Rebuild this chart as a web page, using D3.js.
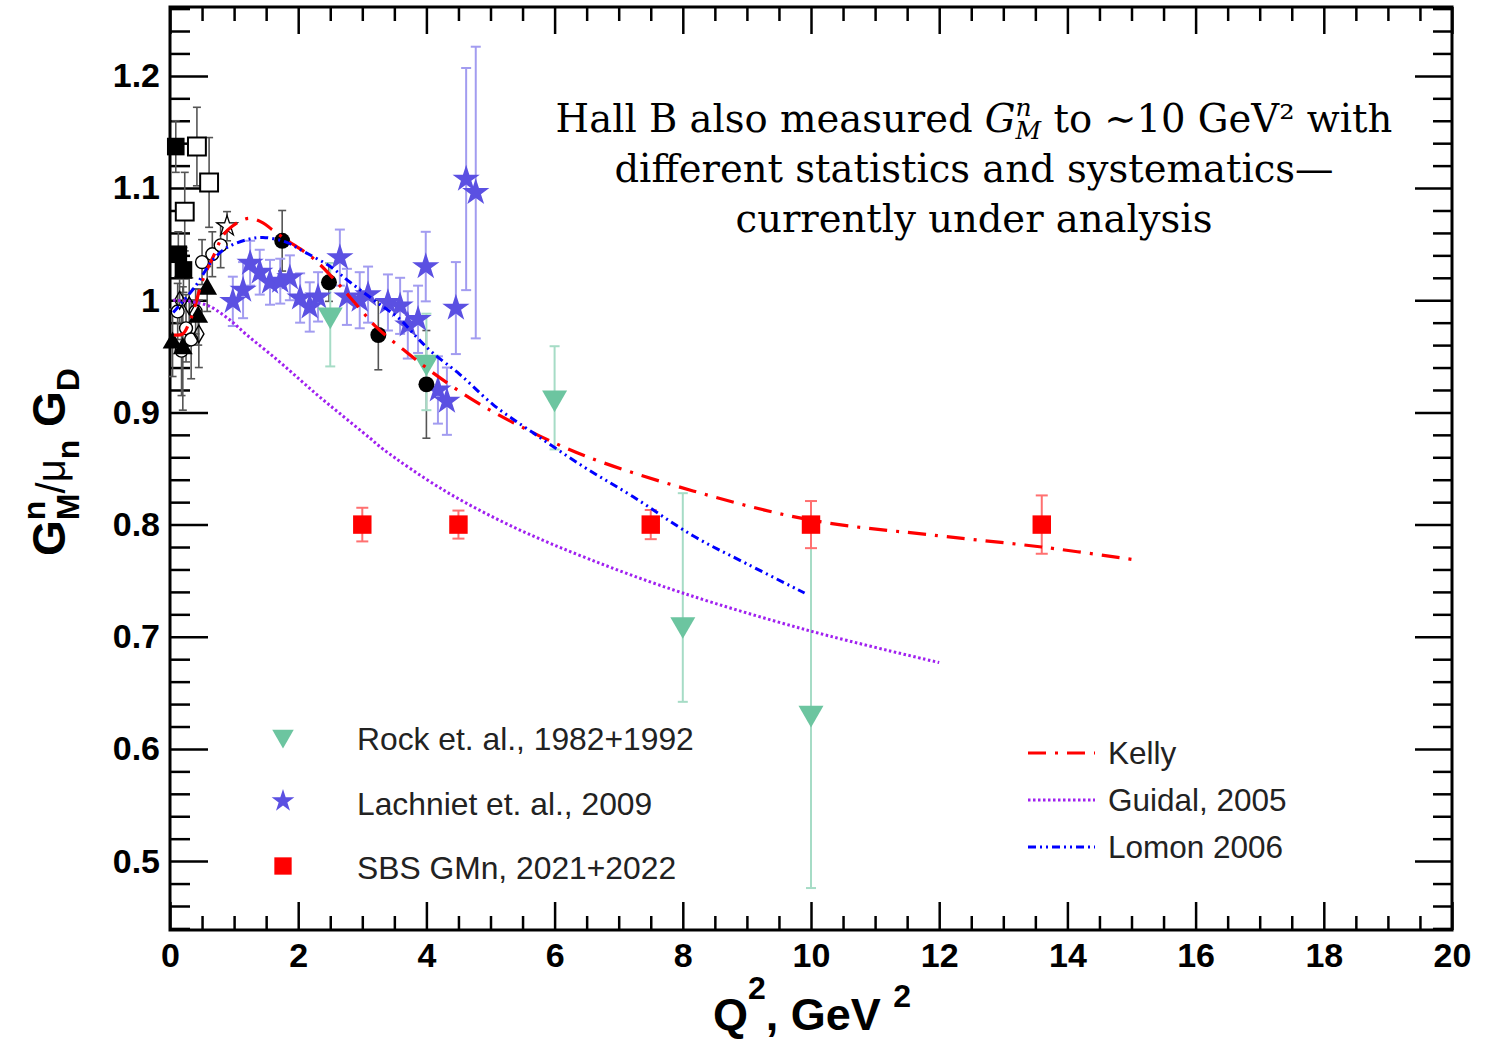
<!DOCTYPE html>
<html><head><meta charset="utf-8">
<script src="https://cdn.jsdelivr.net/npm/d3@7"></script>
<style>body{margin:0;background:#fff;} svg{display:block}</style>
</head><body>
<svg id="chart" width="1496" height="1041"></svg>
<script>
// ---------------- DATA ----------------
const xMajorTicks = [0,2,4,6,8,10,12,14,16,18,20];
const yMajorTicks = [0.5,0.6,0.7,0.8,0.9,1.0,1.1,1.2];
const xRange = [0, 20];
const yRange = [0.4386, 1.2614];

// Rock et al. (down triangles)
const rockQ2   = [2.5, 4.0, 6.0, 8.0, 10.0];
const rockVal  = [0.987, 0.945, 0.913, 0.711, 0.632];
const rockErrUp= [0.046, 0.043, 0.046, 0.117, 0.166];
const rockErrDn= [0.046, 0.043, 0.046, 0.069, 0.156];

// Lachniet et al. 2009 (stars)
const lachQ2  = [0.98,1.14,1.25,1.40,1.56,1.72,1.87,2.03,2.18,2.31,2.65,2.76,2.96,3.09,3.40,3.59,3.71,3.87,3.99,4.18,4.32,4.46,4.62,4.77];
const lachVal = [0.999,1.009,1.033,1.025,1.016,1.017,1.020,1.002,0.994,1.003,1.038,1.003,1.000,1.005,0.998,0.995,0.978,0.983,1.030,0.920,0.910,0.993,1.108,1.096];
const lachErr = [0.022,0.025,0.020,0.020,0.020,0.020,0.020,0.022,0.022,0.022,0.025,0.025,0.025,0.025,0.025,0.025,0.030,0.030,0.031,0.030,0.030,0.041,0.099,0.130];

// SBS GMn 2021+2022 (red squares)
const sbsQ2  = [3.0, 4.5, 7.5, 10.0, 13.6];
const sbsVal = [0.800, 0.800, 0.800, 0.800, 0.800];
const sbsErr = [0.015, 0.0125, 0.013, 0.021, 0.026];

// Other world data (black markers)
const circQ2  = [1.75, 2.48, 3.25, 4.0];
const circVal = [1.053, 1.016, 0.969, 0.925];
const circErr = [0.027, 0.017, 0.031, 0.048];

const fSqQ2  = [0.09, 0.13, 0.21];
const fSqVal = [1.137, 1.041, 1.027];
const fSqErr = [0.023, 0.020, 0.020];

const oSqQ2  = [0.42, 0.61, 0.23];
const oSqVal = [1.137, 1.105, 1.079];
const oSqErr = [0.035, 0.040, 0.035];

const fTriQ2  = [0.04, 0.20, 0.44, 0.58];
const fTriVal = [0.962, 0.957, 0.985, 1.010];
const fTriErr = [0.030, 0.055, 0.025, 0.020];

const oCircQ2  = [0.50, 0.66, 0.79, 0.12, 0.25, 0.33, 0.40, 0.18];
const oCircVal = [1.034, 1.041, 1.049, 0.990, 0.975, 0.965, 0.990, 0.955];
const oCircErr = [0.020, 0.020, 0.020, 0.025, 0.030, 0.035, 0.020, 0.040];

const oDiaQ2  = [0.15, 0.30, 0.45];
const oDiaVal = [1.000, 0.995, 0.970];
const oDiaErr = [0.020, 0.025, 0.030];

const oStarQ2  = [0.89];
const oStarVal = [1.066];
const oStarErr = [0.013];

// Model curves
const kellyQ2  = [0.06,0.20,0.30,0.36,0.51,0.70,0.83,0.97,1.22,1.45,1.59,1.81,2.24,2.65,2.91,3.22,3.64,4.11,4.73,5.35,6.44,8.16,10.0,12.0,13.6,15.0];
const kellyVal = [0.969,0.970,0.980,0.989,1.018,1.042,1.058,1.066,1.073,1.069,1.063,1.054,1.037,1.013,0.996,0.976,0.956,0.935,0.911,0.891,0.862,0.830,0.804,0.790,0.780,0.769];

const guidalQ2  = [0.05,0.30,0.60,0.90,1.20,1.67,2.03,2.33,2.65,3.12,3.33,4.26,5.35,6.55,8.0,10.0,12.0];
const guidalVal = [1.000,0.999,0.995,0.984,0.969,0.947,0.929,0.914,0.899,0.877,0.867,0.831,0.798,0.769,0.739,0.705,0.677];

const lomonQ2  = [0.05,0.39,0.67,0.89,1.20,1.45,1.80,2.10,2.50,2.81,3.28,3.59,3.85,4.10,4.52,5.04,5.66,6.44,7.22,8.16,9.0,9.9];
const lomonVal = [0.989,1.012,1.036,1.047,1.054,1.056,1.052,1.043,1.030,1.016,0.996,0.983,0.967,0.953,0.934,0.907,0.882,0.852,0.825,0.790,0.765,0.739];

const legend1Labels = ["Rock et. al., 1982+1992","Lachniet et. al., 2009","SBS GMn, 2021+2022"];
const legend2Labels = ["Kelly","Guidal, 2005","Lomon 2006"];

// ---------------- DRAW ----------------
const svg = d3.select("#chart");
const x = d3.scaleLinear().domain(xRange).range([170, 1452]);
const y = d3.scaleLinear().domain(yRange).range([930, 7]);
const X0 = x(xRange[0]), X1 = x(xRange[1]), Y0 = y(yRange[0]), Y1 = y(yRange[1]);

const zip = (a,b,c,d) => a.map((q,i)=>({q, v:b[i], up:c[i], dn:(d?d[i]:c[i])}));

const rockC = "#6cc5a0", rockE = "#a6dcc6";
const lachC = "#5b50e2", lachE = "#a29cf0";
const sbsC = "#ff0000", sbsE = "#ff7070";
const blkE = "#555555";

// axes
function minorRange(a,b,s){const r=[];for(let v=a;v<=b+1e-9;v+=s)r.push(+v.toFixed(4));return r;}
const xMinor = minorRange(0,20,0.5).filter(v=>!xMajorTicks.includes(v));
const yMinor = minorRange(0.44,1.26,0.02).filter(v=>!yMajorTicks.some(t=>Math.abs(t-v)<1e-6));

const fontTick = "'Liberation Sans', Arial, Helvetica, sans-serif";
function styleAxis(g){
  g.select(".domain").remove();
  g.selectAll("line").attr("stroke","#000").attr("stroke-width",2.5);
  g.selectAll("text").attr("font-family",fontTick).attr("font-weight","bold").attr("font-size",34).attr("fill","#000");
}
svg.append("g").attr("transform",`translate(0,${Y0})`)
  .call(d3.axisBottom(x).tickValues(xMajorTicks).tickSize(-28).tickPadding(13).tickFormat(d3.format("d"))).call(styleAxis);
svg.append("g").attr("transform",`translate(0,${Y0})`)
  .call(d3.axisBottom(x).tickValues(xMinor).tickSize(-14).tickFormat("")).call(styleAxis);
svg.append("g").attr("transform",`translate(0,${Y1})`)
  .call(d3.axisTop(x).tickValues(xMajorTicks).tickSize(-27).tickFormat("")).call(styleAxis);
svg.append("g").attr("transform",`translate(0,${Y1})`)
  .call(d3.axisTop(x).tickValues(xMinor).tickSize(-14).tickFormat("")).call(styleAxis);
svg.append("g").attr("transform",`translate(${X0},0)`)
  .call(d3.axisLeft(y).tickValues(yMajorTicks).tickSize(-38).tickPadding(10).tickFormat(d=>Math.abs(d-1)<1e-9?"1":d3.format(".1f")(d))).call(styleAxis);
svg.append("g").attr("transform",`translate(${X0},0)`)
  .call(d3.axisLeft(y).tickValues(yMinor).tickSize(-20).tickFormat("")).call(styleAxis);
svg.append("g").attr("transform",`translate(${X1},0)`)
  .call(d3.axisRight(y).tickValues(yMajorTicks).tickSize(-37).tickFormat("")).call(styleAxis);
svg.append("g").attr("transform",`translate(${X1},0)`)
  .call(d3.axisRight(y).tickValues(yMinor).tickSize(-19).tickFormat("")).call(styleAxis);
svg.append("rect").attr("x",X0).attr("y",Y1).attr("width",X1-X0).attr("height",Y0-Y1)
  .attr("fill","none").attr("stroke","#000").attr("stroke-width",3);

// error bars
function errBars(data, color, sw, cap){
  const g = svg.append("g").attr("stroke",color).attr("stroke-width",sw);
  data.forEach(d=>{
    const xx=x(d.q), yt=y(d.v+d.up), yb=y(d.v-d.dn);
    g.append("line").attr("x1",xx).attr("x2",xx).attr("y1",yt).attr("y2",yb);
    g.append("line").attr("x1",xx-cap).attr("x2",xx+cap).attr("y1",yt).attr("y2",yt);
    g.append("line").attr("x1",xx-cap).attr("x2",xx+cap).attr("y1",yb).attr("y2",yb);
  });
}
function markers(data, type, size, fill, stroke, sw, rot){
  svg.append("g").selectAll("path").data(data).join("path")
    .attr("d", d3.symbol(type, size))
    .attr("transform", d=>`translate(${x(d.q)},${y(d.v)})${rot?` rotate(${rot})`:""}`)
    .attr("fill", fill).attr("stroke", stroke||"none").attr("stroke-width", sw||0);
}

// black world data
const fSq = zip(fSqQ2,fSqVal,fSqErr), oSq = zip(oSqQ2,oSqVal,oSqErr), fTri = zip(fTriQ2,fTriVal,fTriErr);
const oCirc = zip(oCircQ2,oCircVal,oCircErr), oDia = zip(oDiaQ2,oDiaVal,oDiaErr), oStar = zip(oStarQ2,oStarVal,oStarErr);
const circ = zip(circQ2,circVal,circErr);
[fSq,oSq,fTri,oCirc,oDia,oStar,circ].forEach(s=>errBars(s,blkE,1.6,4));
markers(oCirc, d3.symbolCircle, 130, "#fff", "#000", 1.4);
markers(oDia, d3.symbolDiamond, 90, "none", "#000", 1.4);
markers(fSq, d3.symbolSquare, 310, "#000");
markers(oSq, d3.symbolSquare, 320, "#fff", "#000", 2);
markers(fTri, d3.symbolTriangle, 170, "#000");
markers(oStar, d3.symbolStar, 130, "#fff", "#000", 1.3);

// Rock
const rock = zip(rockQ2,rockVal,rockErrUp,rockErrDn);
errBars(rock, rockE, 2, 5);
// Lachniet
const lach = zip(lachQ2,lachVal,lachErr);
errBars(lach, lachE, 2, 5);
markers(lach, d3.symbolStar, 230, lachC);
markers(circ, d3.symbolCircle, 200, "#000");
markers(rock, d3.symbolTriangle, 270, rockC, null, 0, 180);
// SBS
const sbs = zip(sbsQ2,sbsVal,sbsErr);
errBars(sbs, sbsE, 2, 6);
markers(sbs, d3.symbolSquare, 340, sbsC);

// curves
const line = d3.line().x(d=>x(d.q)).y(d=>y(d.v)).curve(d3.curveCatmullRom.alpha(0.5));
const curves = [
  {q:kellyQ2, v:kellyVal, c:"#ff0000", w:3.2, dash:"18,9,3,9"},
  {q:guidalQ2, v:guidalVal, c:"#a020f0", w:3, dash:"2.5,2.5"},
  {q:lomonQ2, v:lomonVal, c:"#0000ff", w:3, dash:"8,4,2,4,2,4"}
];
curves.forEach(cv=>{
  svg.append("path").datum(cv.q.map((q,i)=>({q, v:cv.v[i]})))
    .attr("d", line).attr("fill","none").attr("stroke",cv.c).attr("stroke-width",cv.w).attr("stroke-dasharray",cv.dash);
});

// legend 1 (markers)
const legFont = "'Liberation Sans', Arial, Helvetica, sans-serif";
const leg1Y = [739, 804, 868];
const leg1 = svg.append("g");
leg1.append("path").attr("d",d3.symbol(d3.symbolTriangle,200)).attr("transform",`translate(283,${leg1Y[0]-3}) rotate(180)`).attr("fill",rockC);
leg1.append("path").attr("d",d3.symbol(d3.symbolStar,160)).attr("transform",`translate(283,${leg1Y[1]-3})`).attr("fill",lachC);
leg1.append("path").attr("d",d3.symbol(d3.symbolSquare,300)).attr("transform",`translate(283,${leg1Y[2]-2})`).attr("fill",sbsC);
legend1Labels.forEach((t,i)=>leg1.append("text").attr("x",357).attr("y",leg1Y[i]+11).text(t)
  .attr("font-family",legFont).attr("font-size",31.8).attr("fill","#222"));

// legend 2 (lines)
const leg2Y = [753, 800, 847];
const leg2 = svg.append("g");
curves.forEach((cv,i)=>{
  leg2.append("line").attr("x1",1028).attr("x2",1095).attr("y1",leg2Y[i]).attr("y2",leg2Y[i])
    .attr("stroke",cv.c).attr("stroke-width",cv.w).attr("stroke-dasharray",cv.dash);
  leg2.append("text").attr("x",1108).attr("y",leg2Y[i]+11).text(legend2Labels[i])
    .attr("font-family",legFont).attr("font-size",31.5).attr("fill","#222");
});

// annotation
const serif = "'DejaVu Serif', serif";
const cx = 974;
const fsA = 38.5;
const t1 = svg.append("text").attr("x",cx).attr("y",132).attr("text-anchor","middle")
  .attr("font-family",serif).attr("font-size",fsA).attr("fill","#000");
t1.append("tspan").text("Hall B also measured ");
t1.append("tspan").attr("font-style","italic").text("G");
const tn = t1.append("tspan").attr("font-style","italic").attr("font-size",25).attr("dy",-16).text("n");
const tM = t1.append("tspan").attr("font-style","italic").attr("font-size",25).attr("dy",23).text("M");
t1.append("tspan").attr("dy",-7).text(" to \u223C10 GeV\u00B2 with");
tM.attr("dx", -tn.node().getComputedTextLength());
svg.append("text").attr("x",cx).attr("y",182).attr("text-anchor","middle")
  .attr("font-family",serif).attr("font-size",fsA).attr("fill","#000").text("different statistics and systematics\u2014");
svg.append("text").attr("x",cx).attr("y",232).attr("text-anchor","middle")
  .attr("font-family",serif).attr("font-size",fsA).attr("fill","#000").text("currently under analysis");

// axis titles
const xt = svg.append("text").attr("x",812).attr("y",1030).attr("text-anchor","middle")
  .attr("font-family",fontTick).attr("font-weight","bold").attr("font-size",45).attr("fill","#000");
xt.append("tspan").text("Q");
xt.append("tspan").attr("font-size",32).attr("dy",-31).text("2");
xt.append("tspan").attr("dy",31).text(", GeV ");
xt.append("tspan").attr("font-size",32).attr("dy",-23).text("2");

const yt = svg.append("text").attr("transform","translate(65,462) rotate(-90)").attr("text-anchor","middle")
  .attr("font-family",fontTick).attr("font-weight","bold").attr("font-size",46).attr("fill","#000");
yt.append("tspan").text("G");
const yn = yt.append("tspan").attr("font-size",32).attr("dy",-20).text("n");
const yM = yt.append("tspan").attr("font-size",32).attr("dy",34).text("M");
yt.append("tspan").attr("dy",-14).attr("font-weight","normal").attr("font-size",40).text("/\u03BC");
yt.append("tspan").attr("font-size",32).attr("dy",14).text("n");
yt.append("tspan").attr("dy",-14).text(" G");
yt.append("tspan").attr("font-size",32).attr("dy",14).text("D");
yM.attr("dx", -yn.node().getComputedTextLength());
</script>
</body></html>
